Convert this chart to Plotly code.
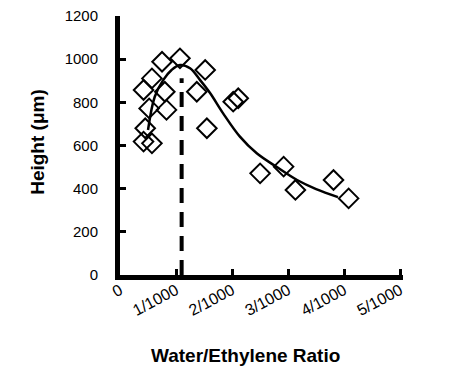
import plotly.graph_objects as go

# Data (x in units of 1/1000 water/ethylene ratio)
pts_x = [0.42, 0.57, 0.45, 0.52, 0.42, 0.57, 0.75, 0.80, 0.83, 1.07,
         1.52, 1.37, 1.55, 2.02, 2.11, 2.50, 2.92, 3.13, 3.81, 4.08]
pts_y = [618, 610, 680, 772, 857, 911, 988, 849, 765, 1004,
         950, 849, 680, 803, 819, 471, 502, 394, 440, 355]

curve_x = [0.5, 0.62, 0.77, 0.92, 1.07, 1.25, 1.43, 1.61, 1.84, 2.14,
           2.44, 2.8, 3.16, 3.5, 3.89]
curve_y = [672, 826, 903, 950, 973, 958, 903, 842, 749, 641,
           564, 500, 440, 398, 361]

peak_x = [1.10, 1.10]
peak_y = [0, 912]

x_tickvals = [0, 1, 2, 3, 4, 5]
x_ticktext = ["0", "1/1000", "2/1000", "3/1000", "4/1000", "5/1000"]
y_tickvals = [0, 200, 400, 600, 800, 1000, 1200]

x_title = "Water/Ethylene Ratio"
y_title = "Height (μm)"

FONT = "Liberation Sans, Arial, sans-serif"

fig = go.Figure()
fig.add_trace(go.Scatter(x=peak_x, y=peak_y, mode="lines",
                         line=dict(color="black", width=4, dash="15px,9px"),
                         hoverinfo="skip"))
fig.add_trace(go.Scatter(x=curve_x, y=curve_y, mode="lines",
                         line=dict(color="black", width=2.5, shape="spline", smoothing=1.0)))
fig.add_trace(go.Scatter(x=pts_x, y=pts_y, mode="markers",
                         marker=dict(symbol="diamond-open", size=15, color="black",
                                     line=dict(color="black", width=2))))

fig.update_layout(
    width=452, height=379,
    margin=dict(l=112, r=57, t=8, b=112),
    paper_bgcolor="white", plot_bgcolor="white",
    showlegend=False,
    font=dict(family=FONT, color="black"),
    annotations=[
        dict(text="<b>" + x_title + "</b>", xref="paper", yref="paper",
             x=0.445, y=-0.309, xanchor="center", yanchor="middle",
             showarrow=False, font=dict(size=19, family=FONT)),
        dict(text="<b>" + y_title + "</b>", xref="paper", yref="paper",
             x=-0.29, y=0.514, xanchor="center", yanchor="middle", textangle=-90,
             showarrow=False, font=dict(size=19, family=FONT)),
    ],
)
fig.update_xaxes(
    range=[0, 5.05], tickvals=x_tickvals, ticktext=x_ticktext,
    tickangle=-28, tickfont=dict(size=16, family=FONT),
    showline=True, linewidth=5, linecolor="black",
    ticks="inside", ticklen=6, tickwidth=3, tickcolor="black",
    showgrid=False, zeroline=False, automargin=False,
    ticklabelstandoff=-5, ticklabeloverflow="allow",
)
fig.update_yaxes(
    range=[0, 1200], tickvals=y_tickvals,
    tickfont=dict(size=15, family=FONT),
    showline=True, linewidth=5, linecolor="black",
    ticks="inside", ticklen=6, tickwidth=3, tickcolor="black",
    showgrid=False, zeroline=False, ticklabelstandoff=14, automargin=False,
    ticklabeloverflow="allow",
)

fig.write_html("out.html")
